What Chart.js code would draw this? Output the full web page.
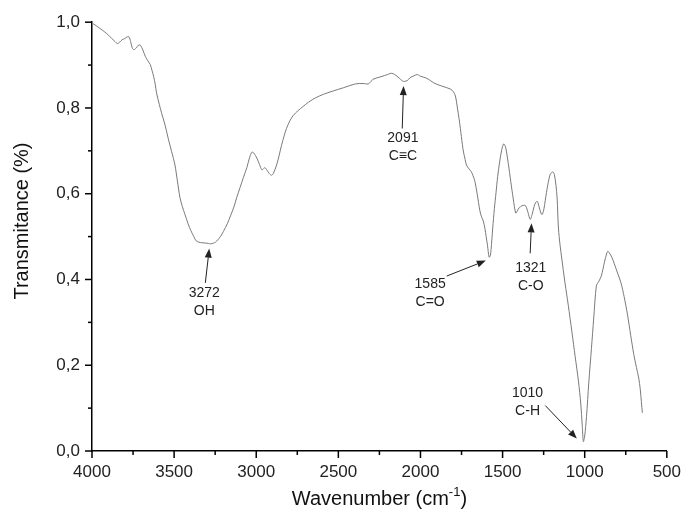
<!DOCTYPE html>
<html><head><meta charset="utf-8">
<script src="https://cdn.jsdelivr.net/npm/chart.js@4"></script>
<style>html,body{margin:0;padding:0;background:#fff;}#wrap{width:692px;height:521px;}</style>
</head><body><div id="wrap"><canvas id="c" width="692" height="521"></canvas></div>
<script>
// ---- data ----
const wavenumber = [4000,3975,3950,3925,3900,3880,3860,3845,3830,3817,3800,3785,3775,3765,3755,3745,3730,3715,3705,3690,3675,3660,3645,3635,3625,3615,3607,3590,3577,3555,3536,3515,3495,3480,3465,3450,3435,3415,3398,3380,3368,3350,3338,3310,3290,3278,3260,3248,3235,3218,3200,3176,3155,3136,3118,3098,3078,3057,3040,3026,3015,3005,2996,2980,2966,2958,2948,2935,2920,2906,2895,2876,2860,2846,2830,2816,2795,2776,2745,2716,2680,2637,2590,2537,2470,2397,2350,2319,2300,2289,2240,2200,2177,2157,2130,2110,2097,2080,2065,2057,2040,2019,2000,1967,1940,1917,1870,1817,1800,1787,1775,1765,1757,1745,1738,1728,1720,1705,1690,1680,1668,1655,1638,1628,1618,1608,1600,1592,1582,1575,1570,1560,1550,1540,1530,1518,1505,1494,1487,1480,1465,1450,1435,1420,1410,1400,1390,1375,1360,1345,1332,1320,1308,1298,1288,1278,1265,1258,1248,1240,1225,1210,1194,1185,1175,1168,1160,1150,1140,1120,1100,1078,1058,1038,1024,1015,1008,1000,989,975,959,945,929,915,899,880,865,859,850,835,821,800,779,760,739,720,701,685,671,662,655,649];
const transmittance = [0.998,0.992,0.985,0.978,0.970,0.962,0.955,0.950,0.954,0.959,0.962,0.966,0.966,0.955,0.940,0.936,0.940,0.947,0.946,0.935,0.920,0.910,0.901,0.888,0.874,0.855,0.835,0.808,0.789,0.760,0.729,0.698,0.667,0.630,0.592,0.570,0.553,0.530,0.514,0.500,0.491,0.487,0.486,0.485,0.484,0.483,0.485,0.487,0.492,0.500,0.512,0.530,0.550,0.569,0.592,0.615,0.638,0.661,0.685,0.697,0.695,0.689,0.683,0.668,0.656,0.657,0.661,0.655,0.647,0.643,0.648,0.667,0.690,0.713,0.735,0.752,0.770,0.782,0.794,0.803,0.814,0.824,0.832,0.839,0.847,0.856,0.857,0.856,0.862,0.867,0.873,0.878,0.881,0.878,0.870,0.863,0.862,0.864,0.870,0.872,0.875,0.878,0.874,0.870,0.864,0.858,0.851,0.844,0.838,0.828,0.800,0.775,0.752,0.715,0.697,0.680,0.667,0.658,0.651,0.642,0.628,0.600,0.560,0.546,0.537,0.520,0.500,0.480,0.452,0.455,0.470,0.520,0.565,0.602,0.640,0.674,0.703,0.716,0.714,0.706,0.670,0.628,0.588,0.555,0.560,0.567,0.570,0.573,0.572,0.556,0.540,0.552,0.570,0.580,0.582,0.570,0.553,0.552,0.565,0.585,0.620,0.645,0.651,0.645,0.620,0.590,0.520,0.480,0.450,0.392,0.340,0.278,0.220,0.163,0.110,0.060,0.022,0.035,0.080,0.160,0.239,0.310,0.385,0.395,0.408,0.440,0.462,0.466,0.462,0.452,0.438,0.415,0.392,0.360,0.317,0.270,0.225,0.195,0.170,0.145,0.115,0.089];
const xTickValues = [4000,3500,3000,2500,2000,1500,1000,500];
const yTickValues = [0,0.2,0.4,0.6,0.8,1.0];
const peakNumbers = ['3272','2091','1585','1321','1010'];
const peakGroups = ['OH','C\u2261C','C=O','C-O','C-H'];

// annotation geometry in data units (arrow tip, arrow tail, label centre)
const annotations = [
  {tip:[3286,0.472], tail:[3310,0.392], label:[3316,0.369]},
  {tip:[2103,0.851], tail:[2111,0.752], label:[2107,0.729]},
  {tip:[1602,0.444], tail:[1840,0.408], label:[1941,0.390]},
  {tip:[1324,0.531], tail:[1332,0.461], label:[1328,0.427]},
  {tip:[1048,0.029], tail:[1240,0.106], label:[1348,0.136]}
];

const FONT = '"Liberation Sans", Arial, sans-serif';
const points = wavenumber.map((w,i)=>({x:w,y:transmittance[i]}));

const decor = {
  id:'decor',
  afterDraw(chart){
    const ctx = chart.ctx, xs = chart.scales.x, ys = chart.scales.y, a = chart.chartArea;
    ctx.save();
    ctx.strokeStyle = '#000'; ctx.lineWidth = 1.5;
    for (let i=0;i<xTickValues.length;i++){
      const px = xs.getPixelForValue(xTickValues[i]);
      ctx.beginPath(); ctx.moveTo(px,a.bottom); ctx.lineTo(px,a.bottom+7); ctx.stroke();
      if (i<xTickValues.length-1){
        const m = xs.getPixelForValue((xTickValues[i]+xTickValues[i+1])/2);
        ctx.beginPath(); ctx.moveTo(m,a.bottom); ctx.lineTo(m,a.bottom+4); ctx.stroke();
      }
    }
    for (let i=0;i<yTickValues.length;i++){
      const py = ys.getPixelForValue(yTickValues[i]);
      ctx.beginPath(); ctx.moveTo(a.left,py); ctx.lineTo(a.left-7,py); ctx.stroke();
      if (i<yTickValues.length-1){
        const m = ys.getPixelForValue((yTickValues[i]+yTickValues[i+1])/2);
        ctx.beginPath(); ctx.moveTo(a.left,m); ctx.lineTo(a.left-4,m); ctx.stroke();
      }
    }
    // annotations
    ctx.fillStyle = '#222'; ctx.strokeStyle = '#222'; ctx.lineWidth = 1;
    ctx.font = '14px ' + FONT; ctx.textAlign = 'center'; ctx.textBaseline = 'middle';
    annotations.forEach((an,i)=>{
      const tx = xs.getPixelForValue(an.tip[0]), ty = ys.getPixelForValue(an.tip[1]);
      const sx = xs.getPixelForValue(an.tail[0]), sy = ys.getPixelForValue(an.tail[1]);
      const ang = Math.atan2(ty-sy, tx-sx);
      const hl = 9, hw = 3.5;
      const bx = tx - hl*Math.cos(ang), by = ty - hl*Math.sin(ang);
      ctx.beginPath(); ctx.moveTo(sx,sy); ctx.lineTo(bx,by); ctx.stroke();
      ctx.beginPath(); ctx.moveTo(tx,ty);
      ctx.lineTo(bx + hw*Math.sin(ang), by - hw*Math.cos(ang));
      ctx.lineTo(bx - hw*Math.sin(ang), by + hw*Math.cos(ang));
      ctx.closePath(); ctx.fill();
      const lx = xs.getPixelForValue(an.label[0]), ly = ys.getPixelForValue(an.label[1]);
      ctx.fillText(peakNumbers[i], lx, ly);
      ctx.fillText(peakGroups[i], lx, ly+18);
    });
    // axis titles
    ctx.fillStyle = '#111';
    ctx.font = '20px ' + FONT;
    ctx.save();
    ctx.translate(22, 221);
    ctx.rotate(-Math.PI/2);
    ctx.textAlign='center'; ctx.textBaseline='middle';
    ctx.fillText('Transmitance (%)',0,0);
    ctx.restore();
    const p1 = 'Wavenumber (cm', sup = '-1', p2 = ')';
    ctx.font = '20px ' + FONT; const w1 = ctx.measureText(p1).width, w3 = ctx.measureText(p2).width;
    ctx.font = '13px ' + FONT; const w2 = ctx.measureText(sup).width;
    const cx = (a.left+a.right)/2, base = 505;
    let x0 = cx - (w1+w2+w3)/2;
    ctx.textAlign='left'; ctx.textBaseline='alphabetic';
    ctx.font = '20px ' + FONT; ctx.fillText(p1,x0,base);
    ctx.font = '13px ' + FONT; ctx.fillText(sup,x0+w1,base-9);
    ctx.font = '20px ' + FONT; ctx.fillText(p2,x0+w1+w2,base);
    ctx.restore();
  }
};

new Chart(document.getElementById('c'), {
  type:'line',
  data:{datasets:[{data:points, borderColor:'#7a7a7a', borderWidth:1, pointRadius:0, tension:0.3, fill:false}]},
  options:{
    responsive:false, animation:false, devicePixelRatio:1,
    layout:{padding:{left:0,top:15,right:15,bottom:0}},
    plugins:{legend:{display:false}, tooltip:{enabled:false}},
    scales:{
      x:{type:'linear', reverse:true, min:500, max:4000,
         afterBuildTicks(s){ s.ticks = xTickValues.map(v=>({value:v})); },
         afterFit(s){ s.height = 70; },
         grid:{display:true, drawOnChartArea:false, drawTicks:false},
         border:{display:true, color:'#000', width:1.5},
         ticks:{padding:11, color:'#222', font:{family:FONT,size:17}, maxRotation:0, autoSkip:false,
                callback:v=>String(v)}},
      y:{type:'linear', min:0, max:1,
         afterBuildTicks(s){ s.ticks = yTickValues.map(v=>({value:v})); },
         afterFit(s){ s.width = 92; },
         grid:{display:true, drawOnChartArea:false, drawTicks:false},
         border:{display:true, color:'#000', width:1.5},
         ticks:{padding:12, color:'#222', font:{family:FONT,size:17},
                callback:v=>v.toFixed(1).replace('.',',')}}
    }
  },
  plugins:[decor]
});
</script></body></html>
